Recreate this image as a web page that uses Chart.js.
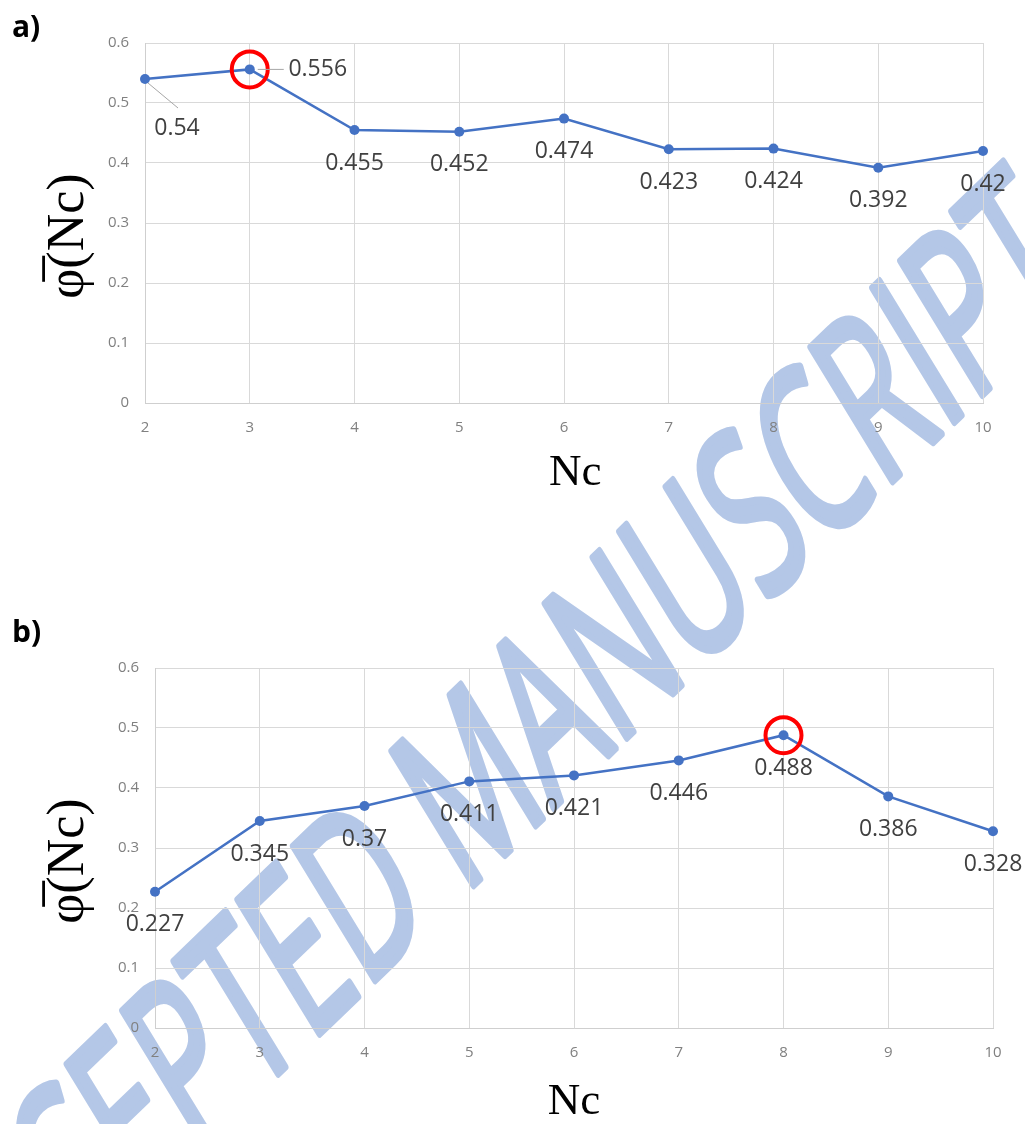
<!DOCTYPE html>
<html>
<head>
<meta charset="utf-8">
<script src="https://cdn.jsdelivr.net/npm/chart.js@4.4.1/dist/chart.umd.min.js"></script>
<style>
html, body { margin: 0; padding: 0; background: #fff; }
#page { position: relative; width: 1025px; height: 1124px; overflow: hidden; }
#wm { position: absolute; left: 0; top: 0; z-index: 0; }
.box { position: absolute; z-index: 1; }
.tag { position: absolute; z-index: 2; left: 12px; font: 700 30px/30px "Open Sans", sans-serif; color: #000; }
</style>
</head>
<body>
<div id="page">
  <svg id="wm" width="1025" height="1124">
    <text transform="matrix(0.72 -0.694 0.52 0.85 518 842)" text-anchor="middle"
          font-family="Open Sans" font-weight="400" font-size="220"
          textLength="1580" lengthAdjust="spacingAndGlyphs"
          fill="#b4c7e7" stroke="#b4c7e7" stroke-width="8" stroke-linejoin="round" stroke-linecap="round">ACCEPTED MANUSCRIPT</text>
  </svg>
  <div class="tag" style="top:11px">a)</div>
  <div class="box" style="left:0;top:0;width:1025px;height:540px"><canvas id="chartA"></canvas></div>
  <div class="tag" style="top:616px">b)</div>
  <div class="box" style="left:10px;top:625px;width:1015px;height:540px"><canvas id="chartB"></canvas></div>
</div>
<script>
// Datos
const nc = ['2', '3', '4', '5', '6', '7', '8', '9', '10'];
const phiA = [0.54, 0.556, 0.455, 0.452, 0.474, 0.423, 0.424, 0.392, 0.42];
const phiB = [0.227, 0.345, 0.37, 0.411, 0.421, 0.446, 0.488, 0.386, 0.328];
const yTicks = [0, 0.1, 0.2, 0.3, 0.4, 0.5, 0.6];

// Posicion de etiquetas (solo estilo)
const labelShiftA = { 0: [32, 49], 1: [68, 0] };
const leaderA = { 0: [[3, 4], [33, 29]], 1: [[8, 0], [34, 0]] };

const blue = '#4472c4';
const grid = '#d9d9d9';

// Etiquetas de valor estilo Excel
const valueLabels = {
    id: 'valueLabels',
    afterDatasetsDraw(chart, args, opts) {
        const ctx = chart.ctx;
        const meta = chart.getDatasetMeta(1);
        const values = chart.data.datasets[1].data;
        ctx.save();
        meta.data.forEach((pt, i) => {
            const lead = opts.leaders[i];
            if (lead) {
                ctx.strokeStyle = '#a6a6a6';
                ctx.lineWidth = 1;
                ctx.beginPath();
                ctx.moveTo(pt.x + lead[0][0], pt.y + lead[0][1]);
                ctx.lineTo(pt.x + lead[1][0], pt.y + lead[1][1]);
                ctx.stroke();
            }
            const sh = opts.shifts[i] || [0, 33];
            ctx.fillStyle = '#404040';
            ctx.font = "23px 'Open Sans', sans-serif";
            ctx.textAlign = 'center';
            ctx.textBaseline = 'middle';
            ctx.fillText(String(values[i]), pt.x + sh[0], pt.y + sh[1]);
        });
        ctx.restore();
    }
};

function makeChart(id, values, padRight, yTitlePad, xTitle, xTitlePad, shifts, leaders) {
    const top = Math.max(...values);
    const peak = values.map(v => (v === top ? v : null));
    return new Chart(document.getElementById(id), {
        type: 'line',
        data: {
            labels: nc,
            datasets: [
                {
                    data: peak,
                    showLine: false,
                    pointRadius: 18,
                    pointBorderWidth: 4,
                    pointBorderColor: '#ff0000',
                    pointBackgroundColor: 'rgba(0,0,0,0)'
                },
                {
                    data: values,
                    borderColor: blue,
                    borderWidth: 2.5,
                    pointRadius: 5,
                    pointBorderWidth: 0,
                    pointBackgroundColor: blue,
                    tension: 0
                }
            ]
        },
        options: {
            responsive: true,
            maintainAspectRatio: false,
            animation: false,
            layout: { padding: { left: 0, right: padRight, top: 43, bottom: 0 } },
            plugins: {
                legend: { display: false },
                tooltip: { enabled: false },
                valueLabels: { shifts: shifts, leaders: leaders }
            },
            scales: {
                x: {
                    type: 'category',
                    offset: false,
                    grid: { color: grid, drawTicks: false },
                    border: { color: '#cfcfcf' },
                    ticks: { color: '#808080', padding: 16, font: { family: "'Open Sans', sans-serif", size: 15 } },
                    title: {
                        display: true,
                        text: xTitle,
                        color: '#000',
                        font: { family: "'Liberation Serif', serif", size: 45 },
                        padding: { top: 0, bottom: xTitlePad }
                    },
                    afterFit(scale) { scale.height = 137; }
                },
                y: {
                    min: 0,
                    max: 0.6,
                    afterBuildTicks(scale) { scale.ticks = yTicks.map(v => ({ value: v })); },
                    grid: { color: grid, drawTicks: false },
                    border: { color: '#cfcfcf' },
                    ticks: { color: '#808080', padding: 16, font: { family: "'Open Sans', sans-serif", size: 15 } },
                    title: {
                        display: true,
                        text: 'φ\u0305(Nc)  ',
                        color: '#000',
                        font: { family: "'Liberation Serif', serif", size: 52 },
                        padding: { top: yTitlePad, bottom: 0 }
                    },
                    afterFit(scale) { scale.width = 145; }
                }
            }
        },
        plugins: [valueLabels]
    });
}

makeChart('chartA', phiA, 42, 38, '  Nc', 40, labelShiftA, leaderA);
makeChart('chartB', phiB, 32, 28, 'Nc', 36, {}, {});
</script>
</body>
</html>
